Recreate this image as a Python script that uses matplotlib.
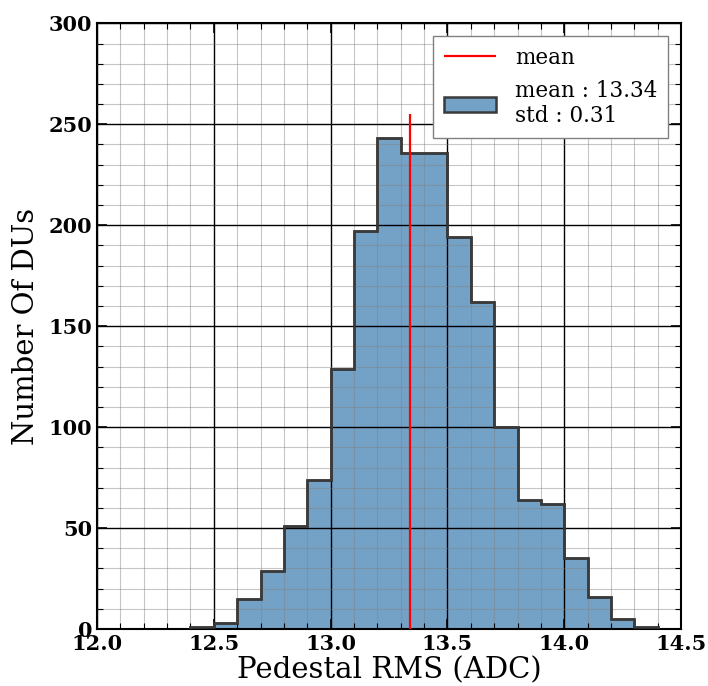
import numpy as np
import matplotlib
matplotlib.use("Agg")
import matplotlib.pyplot as plt
from matplotlib.ticker import MultipleLocator

# Datos del histograma
bin_edges = np.round(np.arange(12.4, 14.41, 0.1), 2)
counts = [1, 3, 15, 29, 51, 74, 129, 197, 243, 236,
          236, 194, 162, 100, 64, 62, 35, 16, 5, 1]
mean_val = 13.34
std_val = 0.31

plt.rcParams['font.family'] = ['DejaVu Serif']

fig = plt.figure(figsize=(7.08, 6.86), dpi=100)
ax = fig.add_axes([0.137, 0.083, 0.825, 0.883])

# relleno (debajo de la grilla) + contorno encima
ax.hist(bin_edges[:-1], bins=bin_edges, weights=counts, histtype='stepfilled',
        facecolor=(70/255, 130/255, 180/255, 0.75), edgecolor='#3a3a3a',
        linewidth=1.8, label=f'mean : {mean_val:.2f}\nstd : {std_val:.2f}',
        zorder=1)
ax.hist(bin_edges[:-1], bins=bin_edges, weights=counts, histtype='step',
        color='#3a3a3a', linewidth=1.8, zorder=3)
ax.vlines(mean_val, 0, max(counts) * 1.05, color='red', linewidth=1.6,
          label='mean', zorder=4)

ax.set_xlim(12.0, 14.5)
ax.set_ylim(0, 300)
ax.xaxis.set_major_locator(MultipleLocator(0.5))
ax.xaxis.set_minor_locator(MultipleLocator(0.1))
ax.yaxis.set_major_locator(MultipleLocator(50))
ax.yaxis.set_minor_locator(MultipleLocator(10))
ax.set_axisbelow(False)
ax.grid(True, which='major', color='black', linewidth=1.0)
ax.grid(True, which='minor', color='gray', alpha=0.45, linewidth=0.8)
ax.tick_params(which='both', direction='in', top=True, right=True)
ax.tick_params(which='major', length=7, width=1.2, labelsize=15)
ax.tick_params(which='minor', length=4, width=0.8)
for lab in ax.get_xticklabels() + ax.get_yticklabels():
    lab.set_fontweight('bold')
for s in ax.spines.values():
    s.set_linewidth(1.5)

ax.set_xlabel('Pedestal RMS (ADC)', fontsize=21, labelpad=2)
ax.set_ylabel('Number Of DUs', fontsize=21, labelpad=6)

h, l = ax.get_legend_handles_labels()
ax.legend(h[::-1], l[::-1], loc='upper right', fontsize=15.5, fancybox=False,
          edgecolor='gray', framealpha=1, handlelength=2.4, borderpad=0.5,
          borderaxespad=0.6, handletextpad=0.9)

fig.savefig('out.png', dpi=100)
